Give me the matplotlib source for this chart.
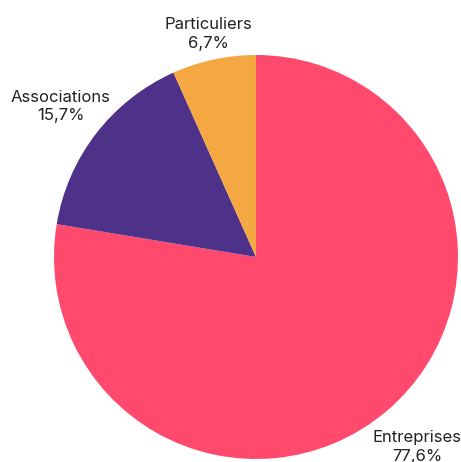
import numpy as np
import matplotlib.pyplot as plt

# data
labels = ["Entreprises", "Associations", "Particuliers"]
values = [77.6, 15.7, 6.7]
colors = ["#FF4A6E", "#4E3189", "#F5A742"]
label_dist = [1.235, 1.22, 1.13]

fig = plt.figure(figsize=(4.61, 4.62), dpi=100)
ax = fig.add_axes([0, 0, 1, 1])

# pie center at pixel (256, 257), radius 202 px
r_px = 202.0
cx, cy = 256.0, 257.0

wedges, _ = ax.pie(values, colors=colors, startangle=90, counterclock=False,
                   radius=1.0, wedgeprops=dict(linewidth=0))
ax.set_xlim(-cx / r_px, (461 - cx) / r_px)
ax.set_ylim(-(462 - cy) / r_px, cy / r_px)
ax.set_aspect("equal")
ax.axis("off")

for w, lab, v, d in zip(wedges, labels, values, label_dist):
    ang = np.deg2rad((w.theta1 + w.theta2) / 2)
    txt = lab + "\n" + ("%.1f" % v).replace(".", ",") + "%"
    ax.text(d * np.cos(ang), d * np.sin(ang), txt, ha="center", va="center",
            fontsize=12, family="Inter", color="#222222", linespacing=1.3)

fig.savefig("out.png", dpi=100)
